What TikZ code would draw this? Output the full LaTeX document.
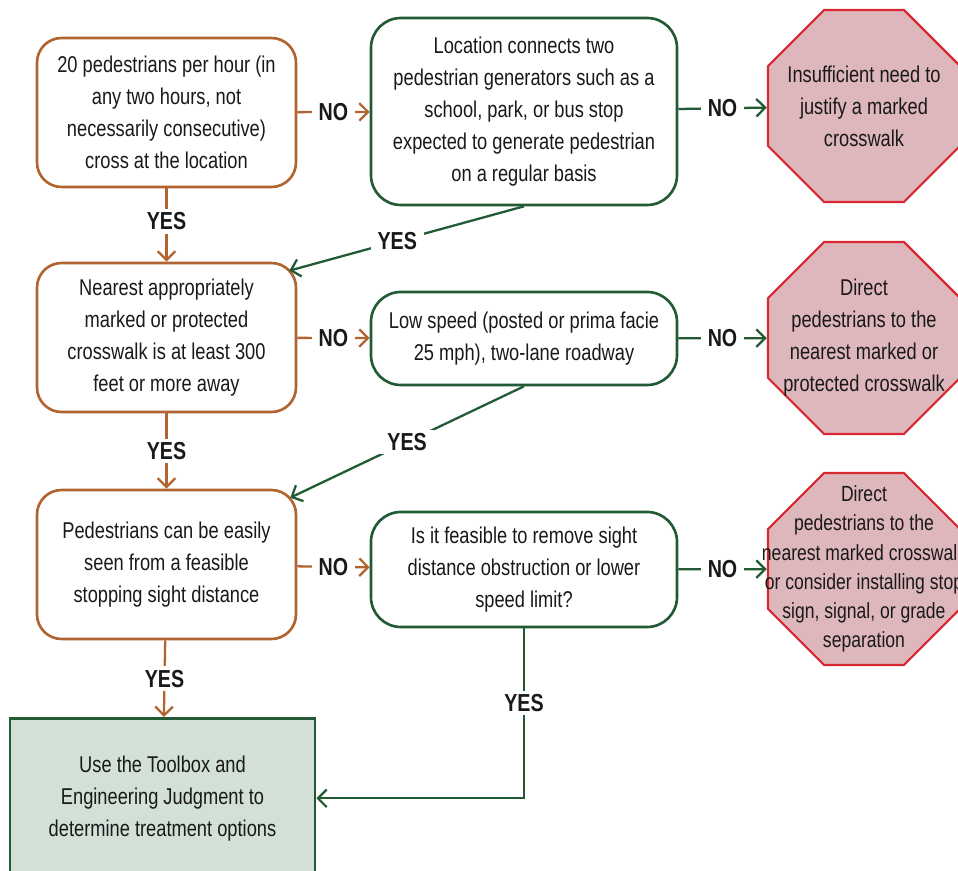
\documentclass[tikz,border=0pt]{standalone}
\usepackage{fontspec}
\setmainfont{Liberation Sans}[FakeStretch=0.8]
\usetikzlibrary{shapes.geometric,arrows.meta,calc}
\definecolor{brwn}{RGB}{178,100,48}
\definecolor{grn}{RGB}{33,90,52}
\definecolor{stopred}{RGB}{216,40,48}
\definecolor{stopfill}{RGB}{222,183,188}
\definecolor{boxfill}{RGB}{210,224,215}

\begin{document}
\begin{tikzpicture}[x=0.02cm,y=-0.02cm,
  every node/.style={font=\fontsize{13}{18.2}\selectfont,text=black!90},
  brbox/.style={draw=brwn,line width=1.5pt,rounded corners=14pt,
    minimum width=259*0.02cm,minimum height=149*0.02cm,align=center},
  gnbox/.style={draw=grn,line width=1.5pt,rounded corners=17pt,
    minimum width=306*0.02cm,align=center},
  stop/.style={regular polygon,regular polygon sides=8,draw=stopred,
    fill=stopfill,line width=1.3pt,minimum size=208*0.02cm,inner sep=0pt},
  brarrow/.style={draw=brwn,line width=1.3pt,-{Straight Barb[length=5pt,width=10pt]}},
  gnarrow/.style={draw=grn,line width=1.3pt,-{Straight Barb[length=5pt,width=10pt]}},
  lbl/.style={fill=white,inner xsep=4pt,inner ysep=2pt,
    font=\fontsize{14}{16}\selectfont\bfseries}]
  \useasboundingbox (0,0) rectangle (958,871);

  \node[brbox] (a) at (166.5,112.5) {20 pedestrians per hour (in\\any two hours, not\\necessarily consecutive)\\cross at the location};
  \node[brbox] (c) at (166.5,337.5) {Nearest appropriately\\marked or protected\\crosswalk is at least 300\\feet or more away};
  \node[brbox] (e) at (166.5,564.5) {Pedestrians can be easily\\seen from a feasible\\stopping sight distance};

  \node[gnbox,minimum height=187*0.02cm] (b) at (524,111.5) {Location connects two\\pedestrian generators such as a\\school, park, or bus stop\\expected to generate pedestrian\\on a regular basis};
  \node[gnbox,minimum height=93*0.02cm] (d) at (524,338.5) {Low speed (posted or prima facie\\25 mph), two-lane roadway};
  \node[gnbox,minimum height=115*0.02cm] (f) at (524,569.5) {Is it feasible to remove sight\\distance obstruction or lower\\speed limit?};

  \node[stop] (s1) at (864,106) {};
  \node[stop] (s2) at (864,338) {};
  \node[stop] (s3) at (864,569) {};
  \node[align=center] (t1) at (s1) {Insufficient need to\\justify a marked\\crosswalk};
  \node[align=center] (t2) at (s2) {Direct\\pedestrians to the\\nearest marked or\\protected crosswalk};
  \node[align=center,font=\fontsize{12.5}{16.6}\selectfont] (t3) at (s3) {Direct\\pedestrians to the\\nearest marked crosswalk\\or consider installing stop\\sign, signal, or grade\\separation};

  \node[draw=grn,fill=boxfill,line width=1.5pt,minimum width=305*0.02cm,
    minimum height=160*0.02cm,anchor=north,align=center] (g) at (162.5,717)
    {Use the Toolbox and\\Engineering Judgment to\\determine treatment options};

  \draw[brarrow] (a) -- node[lbl]{NO} (b);
  \draw[brarrow] (c) -- node[lbl]{NO} (d);
  \draw[brarrow] (e) -- node[lbl]{NO} (f);
  \draw[gnarrow] (b) -- node[lbl]{NO} (s1);
  \draw[gnarrow] (d) -- node[lbl]{NO} (s2);
  \draw[gnarrow] (f) -- node[lbl]{NO} (s3);

  \draw[brarrow] (a) -- node[lbl,pos=0.45]{YES} (c);
  \draw[brarrow] (c) -- node[lbl]{YES} (e);
  \draw[brarrow] (e) -- node[lbl]{YES} (g);
  \draw[gnarrow] (b.south) -- node[lbl,pos=0.54]{YES} ($(c.north east)+(-8,9)$);
  \draw[gnarrow] (d.south) -- node[lbl,pos=0.5]{YES} ($(e.north east)+(-7,9)$);
  \draw[gnarrow] (f.south) |- node[lbl,pos=0.22]{YES} (g.east);
\end{tikzpicture}
\end{document}
